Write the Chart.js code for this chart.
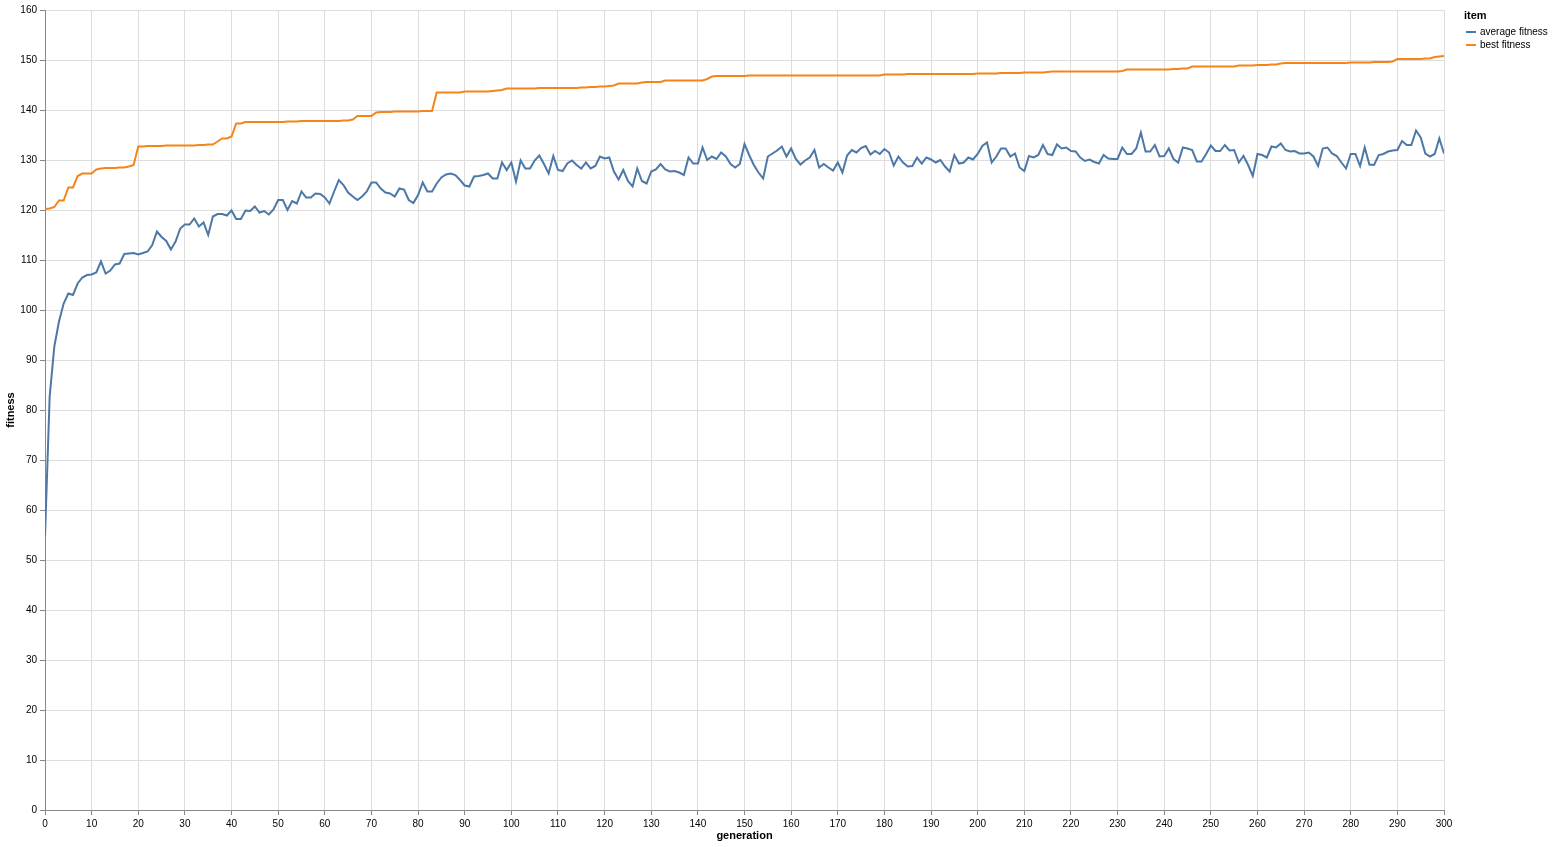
<!DOCTYPE html>
<html>
<head>
<meta charset="utf-8">
<title>fitness by generation</title>
<script src="https://cdn.jsdelivr.net/npm/chart.js@4.4.1/dist/chart.umd.min.js"></script>
<style>
  body { margin: 0; background: #fff; }
  #wrap { position: relative; width: 1553px; height: 847px; }
  #legend {
    position: absolute;
    left: 1464px;
    top: 9px;
    font-family: "Liberation Sans", Arial, sans-serif;
    color: #000;
  }
  #legend .title { font-size: 11px; font-weight: bold; line-height: 13px; margin-bottom: 3px; }
  #legend .row { font-size: 10px; line-height: 13px; height: 13px; display: flex; align-items: center; padding-left: 2px; }
  #legend .sym { width: 10px; height: 2px; margin-right: 4px; }
</style>
</head>
<body>
<div id="wrap">
  <canvas id="myChart" width="1553" height="847"></canvas>
  <div id="legend"></div>
</div>
<script>
const seriesNames = ["average fitness", "best fitness"];
const seriesColors = ["#4c78a8", "#f58518"];

const averageFitness = [
  54.7, 82.7, 92.7, 97.7, 101.3, 103.3, 103.0, 105.3, 106.5, 107.0,
  107.1, 107.5, 109.7, 107.3, 107.9, 109.1, 109.3, 111.2, 111.3, 111.4,
  111.1, 111.4, 111.7, 113.0, 115.7, 114.6, 113.8, 112.1, 113.7, 116.3,
  117.1, 117.1, 118.3, 116.7, 117.5, 115.0, 118.7, 119.2, 119.2, 118.9,
  119.9, 118.2, 118.2, 119.9, 119.8, 120.7, 119.5, 119.8, 119.1, 120.1,
  122.0, 122.0, 120.0, 121.8, 121.3, 123.7, 122.5, 122.5, 123.3, 123.2,
  122.5, 121.3, 123.7, 126.0, 125.0, 123.5, 122.7, 122.0, 122.7, 123.7,
  125.5, 125.5, 124.3, 123.5, 123.3, 122.7, 124.3, 124.1, 122.0, 121.4,
  123.0, 125.5, 123.7, 123.7, 125.3, 126.5, 127.1, 127.3, 127.0, 126.0,
  124.9, 124.7, 126.7, 126.8, 127.0, 127.3, 126.3, 126.3, 129.5, 128.0,
  129.5, 125.7, 129.9, 128.3, 128.3, 129.9, 130.9, 129.2, 127.3, 130.8,
  128.0, 127.8, 129.3, 129.9, 129.0, 128.3, 129.5, 128.3, 128.8, 130.7,
  130.3, 130.5, 127.7, 126.1, 128.0, 125.8, 124.7, 128.3, 125.8, 125.3,
  127.7, 128.1, 129.2, 128.1, 127.7, 127.8, 127.5, 127.0, 130.5, 129.3,
  129.3, 132.5, 130.0, 130.7, 130.2, 131.5, 130.7, 129.2, 128.5, 129.2,
  133.2, 131.0, 129.0, 127.5, 126.3, 130.7, 131.3, 131.9, 132.7, 130.7,
  132.3, 130.2, 129.1, 129.9, 130.5, 132.0, 128.5, 129.2, 128.5, 127.9,
  129.5, 127.5, 130.9, 132.0, 131.5, 132.4, 132.8, 131.1, 131.8, 131.2,
  132.2, 131.5, 128.9, 130.7, 129.5, 128.7, 128.8, 130.5, 129.3, 130.5,
  130.1, 129.5, 130.0, 128.7, 127.7, 131.0, 129.3, 129.5, 130.5, 130.1,
  131.2, 132.8, 133.5, 129.5, 130.7, 132.3, 132.3, 130.7, 131.3, 128.5,
  127.8, 130.8, 130.5, 131.0, 133.0, 131.2, 131.0, 133.1, 132.3, 132.5,
  131.8, 131.7, 130.5, 129.8, 130.1, 129.6, 129.3, 131.0, 130.3, 130.2,
  130.2, 132.5, 131.2, 131.2, 132.3, 135.5, 131.7, 131.7, 133.0, 130.7,
  130.8, 132.3, 130.2, 129.5, 132.5, 132.3, 132.0, 129.7, 129.7, 131.2,
  132.9, 131.8, 131.8, 133.0, 131.9, 132.0, 129.5, 130.8, 129.0, 126.8,
  131.2, 131.0, 130.5, 132.7, 132.5, 133.3, 132.0, 131.7, 131.8, 131.3,
  131.3, 131.5, 130.7, 128.8, 132.3, 132.5, 131.3, 130.8, 129.5, 128.3,
  131.2, 131.2, 128.8, 132.5, 129.1, 129.0, 131.0, 131.2, 131.7, 131.9,
  132.0, 133.8, 133.0, 133.0, 135.9, 134.5, 131.3, 130.7, 131.2, 134.3,
  131.3,
];

const bestFitness = [
  120.2, 120.3, 120.6, 121.9, 121.9, 124.5, 124.5, 126.8, 127.3, 127.3,
  127.3, 128.1, 128.3, 128.4, 128.4, 128.4, 128.5, 128.5, 128.7, 129.0,
  132.7, 132.7, 132.8, 132.8, 132.8, 132.8, 132.9, 132.9, 132.9, 132.9,
  132.9, 132.9, 132.9, 133.0, 133.0, 133.1, 133.1, 133.7, 134.3, 134.3,
  134.7, 137.3, 137.3, 137.6, 137.6, 137.6, 137.6, 137.6, 137.6, 137.6,
  137.6, 137.6, 137.7, 137.7, 137.7, 137.8, 137.8, 137.8, 137.8, 137.8,
  137.8, 137.8, 137.8, 137.8, 137.9, 137.9, 138.1, 138.8, 138.8, 138.8,
  138.8, 139.5, 139.6, 139.6, 139.6, 139.7, 139.7, 139.7, 139.7, 139.7,
  139.7, 139.8, 139.8, 139.8, 143.5, 143.5, 143.5, 143.5, 143.5, 143.5,
  143.7, 143.7, 143.7, 143.7, 143.7, 143.7, 143.8, 143.9, 144.0, 144.3,
  144.3, 144.3, 144.3, 144.3, 144.3, 144.3, 144.4, 144.4, 144.4, 144.4,
  144.4, 144.4, 144.4, 144.4, 144.4, 144.5, 144.5, 144.6, 144.6, 144.7,
  144.7, 144.8, 144.9, 145.3, 145.3, 145.3, 145.3, 145.3, 145.5, 145.6,
  145.6, 145.6, 145.6, 145.9, 145.9, 145.9, 145.9, 145.9, 145.9, 145.9,
  145.9, 145.9, 146.2, 146.7, 146.8, 146.8, 146.8, 146.8, 146.8, 146.8,
  146.8, 146.9, 146.9, 146.9, 146.9, 146.9, 146.9, 146.9, 146.9, 146.9,
  146.9, 146.9, 146.9, 146.9, 146.9, 146.9, 146.9, 146.9, 146.9, 146.9,
  146.9, 146.9, 146.9, 146.9, 146.9, 146.9, 146.9, 146.9, 146.9, 146.9,
  147.1, 147.1, 147.1, 147.1, 147.1, 147.2, 147.2, 147.2, 147.2, 147.2,
  147.2, 147.2, 147.2, 147.2, 147.2, 147.2, 147.2, 147.2, 147.2, 147.2,
  147.3, 147.3, 147.3, 147.3, 147.3, 147.4, 147.4, 147.4, 147.4, 147.4,
  147.5, 147.5, 147.5, 147.5, 147.5, 147.6, 147.7, 147.7, 147.7, 147.7,
  147.7, 147.7, 147.7, 147.7, 147.7, 147.7, 147.7, 147.7, 147.7, 147.7,
  147.7, 147.8, 148.1, 148.1, 148.1, 148.1, 148.1, 148.1, 148.1, 148.1,
  148.1, 148.1, 148.2, 148.2, 148.3, 148.3, 148.7, 148.7, 148.7, 148.7,
  148.7, 148.7, 148.7, 148.7, 148.7, 148.7, 148.9, 148.9, 148.9, 148.9,
  149.0, 149.0, 149.0, 149.1, 149.1, 149.3, 149.4, 149.4, 149.4, 149.4,
  149.4, 149.4, 149.4, 149.4, 149.4, 149.4, 149.4, 149.4, 149.4, 149.4,
  149.5, 149.5, 149.5, 149.5, 149.5, 149.6, 149.6, 149.6, 149.6, 149.7,
  150.2, 150.2, 150.2, 150.2, 150.2, 150.2, 150.3, 150.3, 150.6, 150.7,
  150.8,
];

// generation number is just the index of each value
const generations = averageFitness.map((_, i) => i);

const toPoints = (values) => values.map((v, i) => ({ x: generations[i], y: v }));

const labelFont = { family: "'Liberation Sans', Arial, sans-serif", size: 10 };
const titleFont = { family: "'Liberation Sans', Arial, sans-serif", size: 11, weight: "bold" };

new Chart("myChart", {
  type: "line",
  data: {
    datasets: [
      {
        label: seriesNames[0],
        data: toPoints(averageFitness),
        borderColor: seriesColors[0],
        backgroundColor: seriesColors[0],
      },
      {
        label: seriesNames[1],
        data: toPoints(bestFitness),
        borderColor: seriesColors[1],
        backgroundColor: seriesColors[1],
      },
    ],
  },
  options: {
    responsive: false,
    animation: false,
    layout: { padding: { top: 10, right: 109, left: 0, bottom: 0 } },
    elements: {
      point: { radius: 0, hoverRadius: 0 },
      line: { borderWidth: 2, tension: 0, borderJoinStyle: "miter" },
    },
    plugins: {
      legend: { display: false },
      tooltip: { enabled: false },
    },
    scales: {
      x: {
        type: "linear",
        min: 0,
        max: 300,
        afterFit: (scale) => { scale.height = 37; },
        ticks: { stepSize: 10, color: "#000", font: labelFont, padding: 3, maxRotation: 0, autoSkip: false },
        grid: { color: "#ddd", tickColor: "#888", tickLength: 5 },
        border: { color: "#888" },
        title: { display: true, text: "generation", color: "#000", font: titleFont, padding: { top: 2, bottom: 4 } },
      },
      y: {
        min: 0,
        max: 160,
        afterFit: (scale) => { scale.width = 45; },
        ticks: { stepSize: 10, color: "#000", font: labelFont, padding: 3 },
        grid: { color: "#ddd", tickColor: "#888", tickLength: 5 },
        border: { color: "#888" },
        title: { display: true, text: "fitness", color: "#000", font: titleFont, padding: { top: 4, bottom: 2 } },
      },
    },
  },
});

const legend = document.getElementById("legend");
const legendTitle = document.createElement("div");
legendTitle.className = "title";
legendTitle.textContent = "item";
legend.appendChild(legendTitle);
seriesNames.forEach((name, i) => {
  const row = document.createElement("div");
  row.className = "row";
  const sym = document.createElement("span");
  sym.className = "sym";
  sym.style.background = seriesColors[i];
  const txt = document.createElement("span");
  txt.textContent = name;
  row.appendChild(sym);
  row.appendChild(txt);
  legend.appendChild(row);
});
</script>
</body>
</html>
